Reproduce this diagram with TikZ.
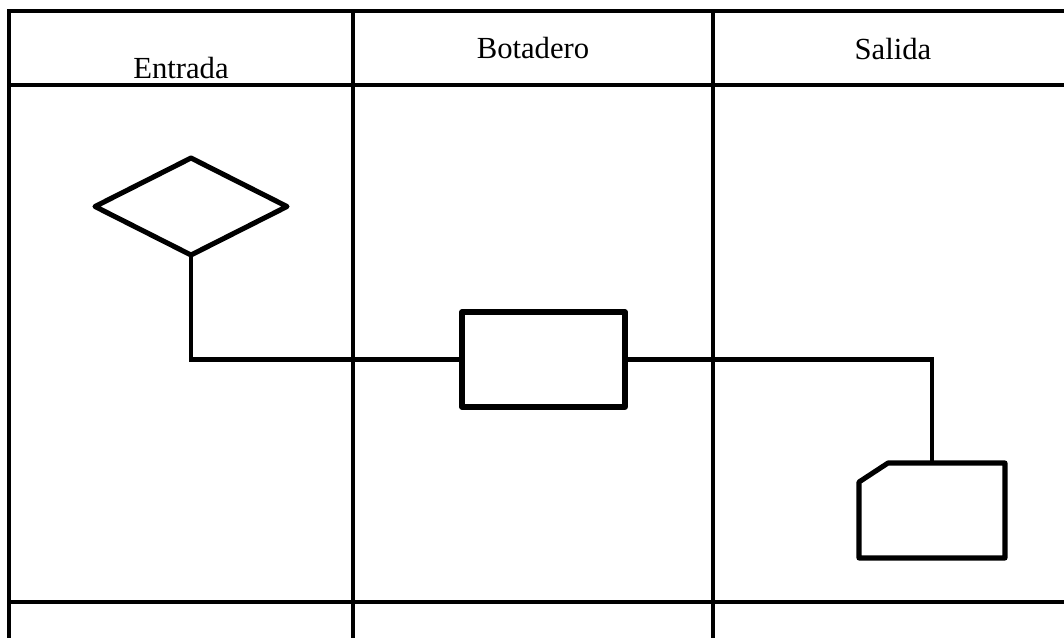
\documentclass[tikz,border=0pt]{standalone}
\usepackage{fontspec}
\setmainfont{Liberation Serif}
\usetikzlibrary{shapes.geometric}
\begin{document}
\begin{tikzpicture}[x=0.75pt,y=-0.75pt,
  grid/.style={line width=2.3pt,line cap=rect},
  shapeline/.style={line width=3.8pt,line join=round,line cap=round},
  wire/.style={line width=3.6pt,line join=miter,line cap=rect},
  header/.style={font=\fontsize{23}{27}\selectfont,anchor=base,inner sep=0pt}]
\useasboundingbox (0,0) rectangle (1064,637);
% table grid
\draw[grid] (9,11) -- (1070,11);
\draw[grid] (9,85) -- (1070,85);
\draw[grid] (9,602) -- (1070,602);
\draw[grid] (9,11) -- (9,640);
\draw[grid] (353,11) -- (353,640);
\draw[grid] (713,11) -- (713,640);
% headers
\node[header] (hEntrada) at (181,78) {Entrada};
\node[header] (hBotadero) at (533,58) {Botadero};
\node[header] (hSalida) at (893,59) {Salida};
% shapes
\node[diamond,draw,shapeline,minimum width=144pt,minimum height=72.75pt,inner sep=0pt,outer sep=0pt] (dec) at (191,206.5) {};
\node[rectangle,draw,shapeline,minimum width=122.25pt,minimum height=71.25pt,inner sep=0pt,outer sep=0pt] (proc) at (543.5,359.5) {};
\coordinate (cardtop) at (932,463);
\draw[shapeline] (888,463) -- (1005,463) -- (1005,558) -- (859,558) -- (859,482) -- cycle;
% connectors
\coordinate (c1) at (dec.south |- proc.west);
\coordinate (c2) at (cardtop |- proc.east);
\draw[wire] (dec.south) -- (c1) -- (proc.west);
\draw[wire] (proc.east) -- (c2) -- (cardtop);
\end{tikzpicture}
\end{document}
